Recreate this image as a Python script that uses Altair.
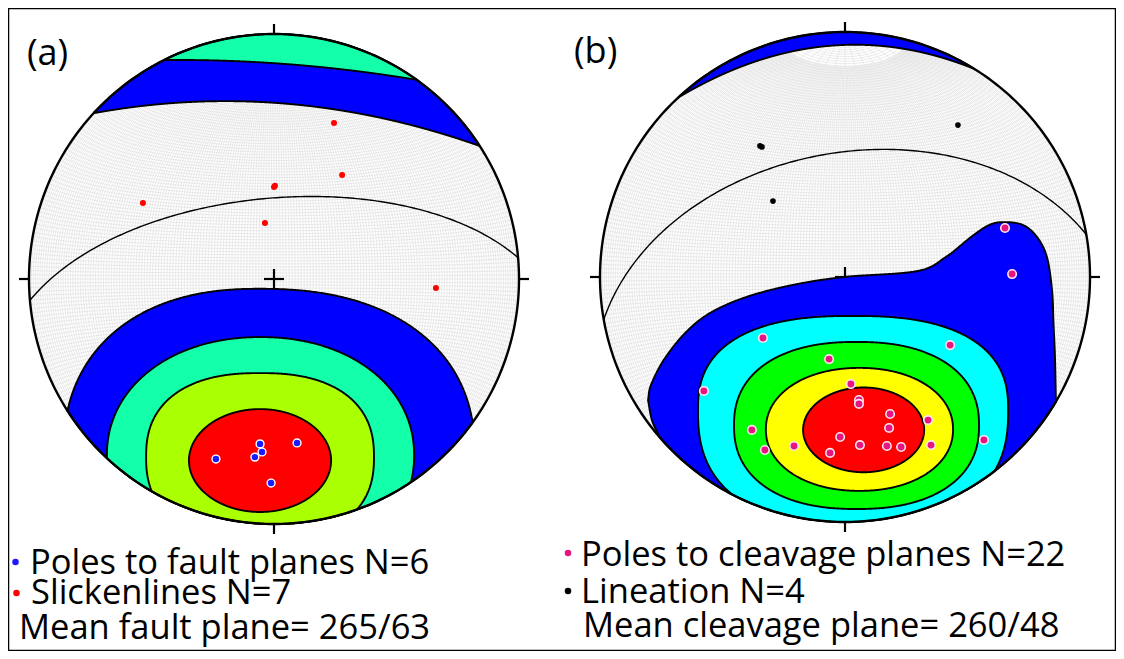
import numpy as np
import pandas as pd
import altair as alt

alt.data_transformers.disable_max_rows()

# =====================================================================
# DATA  (equal-area lower-hemisphere net coordinates:
#        u = east, v = north, primitive circle radius = 1)
# =====================================================================
# ---- panel (a)
fault_pole_u = [-0.237, -0.057, -0.049, -0.078, 0.094, -0.012]
fault_pole_v = [-0.735, -0.673, -0.706, -0.727, -0.669, -0.833]
slick_u = [0.245, 0.278, 0.000, -0.535, -0.037, 0.661, 0.004]
slick_v = [0.637, 0.424, 0.376, 0.310, 0.229, -0.037, 0.381]
mean_fault_plane = (265, 63)            # strike / dip (right-hand rule)

# ---- panel (b)
cleav_pole_u = [0.653, 0.682, -0.335, 0.429, -0.065, 0.024, 0.057, 0.057, 0.184, 0.180, 0.339,
                -0.020, 0.061, 0.171, 0.229, -0.061, -0.208, -0.327, 0.351, -0.576, -0.380, 0.567]
cleav_pole_v = [0.200, 0.012, -0.249, -0.278, -0.335, -0.437, -0.502, -0.518, -0.559, -0.616, -0.584,
                -0.653, -0.686, -0.690, -0.694, -0.718, -0.690, -0.706, -0.686, -0.465, -0.624, -0.665]
lin_u = [-0.339, -0.347, 0.461, -0.294]
lin_v = [0.531, 0.535, 0.620, 0.310]
mean_cleavage_plane = (260, 48)

# ---- density contour bands
# closed ovals: centre u, centre v, half-width left/right, half-height top/bottom, squareness
oval_level_a = ["c1", "c2", "c3", "c4"]
oval_shape_a = [(-0.060, -0.720, 0.800, 0.880, 0.680, 0.680, 2.3),
                (-0.055, -0.720, 0.627, 0.627, 0.483, 0.483, 2.1),
                (-0.057, -0.727, 0.465, 0.465, 0.343, 0.343, 2.4),
                (-0.057, -0.741, 0.290, 0.290, 0.210, 0.210, 2.0)]
oval_level_b = ["c2", "c3", "c4", "c5"]
oval_shape_b = [(0.033, -0.543, 0.633, 0.633, 0.384, 0.469, 2.5),
                (0.047, -0.606, 0.500, 0.500, 0.341, 0.341, 2.3),
                (0.059, -0.622, 0.382, 0.382, 0.251, 0.251, 2.1),
                (0.076, -0.624, 0.247, 0.247, 0.173, 0.173, 2.0)]
# caps wrapped to the opposite rim: apex u, apex v, curvature
cap_level_a = ["c1", "c2"]
cap_shape_a = [(-0.198, 0.726, 0.170), (-0.394, 0.894, 0.085)]
cap_level_b = ["c1"]
cap_shape_b = [(0.040, 0.948, 0.415)]
# lowest contour of panel (b): free outline (upper edge / lower edge)
lobe_top_u = [-0.804, -0.792, -0.740, -0.653, -0.551, -0.404, -0.216, -0.004, 0.294, 0.412,
              0.514, 0.588, 0.649, 0.727, 0.784, 0.824, 0.845, 0.851, 0.857, 0.861]
lobe_top_v = [-0.502, -0.441, -0.339, -0.229, -0.147, -0.082, -0.033, 0.000, 0.024, 0.082,
              0.163, 0.212, 0.224, 0.212, 0.163, 0.082, -0.053, -0.188, -0.327, -0.514]
lobe_bot_u = [-0.804, -0.788, -0.755, -0.700]
lobe_bot_v = [-0.502, -0.584, -0.660, -0.800]

level_colors = {"c1": "#0000fe", "c2a": "#14ffaa", "c3a": "#aaff00", "c4a": "#ff0000",
                "c2b": "#00ffff", "c3b": "#00ff00", "c4b": "#ffff00", "c5b": "#ff0000"}

legend_a = ["Poles to fault planes N=6", "Slickenlines N=7", "Mean fault plane= 265/63"]
legend_b = ["Poles to cleavage planes N=22", "Lineation N=4", "Mean cleavage plane= 260/48"]
panel_tags = ["(a)", "(b)"]

# =====================================================================
# LAYOUT
# =====================================================================
R = 245.0
CEN = {"a": (274.0, 279.0), "b": (845.0, 277.0)}
xs = alt.Scale(domain=[8, 1116], nice=False, zero=False)
ys = alt.Scale(domain=[8, 651], nice=False, zero=False, reverse=True)
FONT = "Open Sans"


def X(f):
    return alt.X(f, type="quantitative", scale=xs, axis=None)


def Y(f):
    return alt.Y(f, type="quantitative", scale=ys, axis=None)


def px(panel, u, v):
    cx, cy = CEN[panel]
    return cx + np.asarray(u, float) * R, cy - np.asarray(v, float) * R


def ea(e, n, d):
    s = np.sqrt(1.0 + np.clip(d, 0, None))
    return e / s, n / s


# ---------------- stereonet grid (Schmidt net, 1 degree) --------------
gu, gv, gg, gk = [], [], [], []
gid = 0
for dip in range(1, 180):
    step = np.arange(0, 181, 3) if dip % 10 == 0 else np.arange(15, 166, 3)
    t = np.radians(step)
    dd = np.radians(dip)
    u, v = ea(np.sin(t) * np.cos(dd), np.cos(t), np.sin(t) * np.sin(dd))
    gu += list(u); gv += list(v); gg += [gid] * len(t); gk += list(range(len(t)))
    gid += 1
for beta in range(1, 180):
    s = np.radians(np.arange(0, 181, 3))
    b = np.radians(beta)
    u, v = ea(np.sin(b) * np.cos(s), np.full_like(s, np.cos(b)), np.sin(b) * np.sin(s))
    gu += list(u); gv += list(v); gg += [gid] * len(s); gk += list(range(len(s)))
    gid += 1
net_df = pd.DataFrame({"u": np.round(gu, 4), "v": np.round(gv, 4), "g": gg, "k": gk})

ang = np.radians(np.arange(0, 361, 1))
circ_df = pd.DataFrame({"u": np.cos(ang), "v": np.sin(ang), "k": np.arange(len(ang))})


# ---------------- contour region geometry -----------------------------
def clip_to_disk(u, top, bot):
    c = np.sqrt(np.clip(1 - u * u, 0, None))
    top = np.minimum(top, c)
    bot = np.maximum(bot, -c)
    m = (top >= bot) & (np.abs(u) <= 1)
    idx = np.where(m)[0]
    lo, hi = max(idx[0] - 1, 0), min(idx[-1] + 1, len(u) - 1)
    sl = slice(lo, hi + 1)
    u, top, bot = u[sl], top[sl], bot[sl]
    bot = np.minimum(bot, top)
    return u, top, bot


def oval(cu, cv, rl, rr, rt, rb, p, n=500):
    th = np.linspace(np.pi, 0, n)
    c, s = np.cos(th), np.sin(th)
    sx = np.sign(c) * np.abs(c) ** (2 / p)
    f = np.abs(s) ** (2 / p)
    u = cu + np.where(sx < 0, sx * rl, sx * rr)
    return clip_to_disk(u, cv + rt * f, cv - rb * f)


def cap(u0, v0, k, n=2500):
    u = np.linspace(-1, 1, n)
    c = np.sqrt(np.clip(1 - u * u, 0, None))
    return clip_to_disk(u, c, v0 - k * (u - u0) ** 2)


def catmull(uu, vv, n=16):
    P = np.column_stack([uu, vv]).astype(float)
    P = np.vstack([2 * P[0] - P[1], P, 2 * P[-1] - P[-2]])
    out = []
    for i in range(1, len(P) - 2):
        p0, p1, p2, p3 = P[i - 1], P[i], P[i + 1], P[i + 2]
        for t in np.linspace(0, 1, n, endpoint=False):
            out.append(0.5 * (2 * p1 + (-p0 + p2) * t + (2 * p0 - 5 * p1 + 4 * p2 - p3) * t * t
                              + (-p0 + 3 * p1 - 3 * p2 + p3) * t ** 3))
    out.append(P[-2])
    return np.array(out)


def lobe():
    tc = catmull(lobe_top_u, lobe_top_v)
    bc = catmull(lobe_bot_u, lobe_bot_v)
    tu = np.maximum.accumulate(tc[:, 0])
    bu = np.concatenate([np.maximum.accumulate(bc[:, 0]), [-0.5, 0.95]])
    bv = np.concatenate([bc[:, 1], [-1.3, -1.3]])
    grid = np.unique(np.concatenate([tu, np.linspace(tu[0], tu[-1], 500)]))
    top = np.interp(grid, tu, tc[:, 1])
    bot = np.interp(grid, bu, bv)
    return clip_to_disk(grid, top, bot)


def region_df(panel, geom):
    u, top, bot = geom
    x, yt = px(panel, u, top)
    _, yb = px(panel, u, bot)
    return pd.DataFrame({"x": np.round(x, 2), "yt": np.round(yt, 2), "yb": np.round(yb, 2)})


def area_layer(df, color):
    return alt.Chart(df).mark_area(fill=color, stroke="black", strokeWidth=1.9,
                                   interpolate="linear", opacity=1).encode(
        x=X("x"), y=Y("yt"), y2=alt.Y2("yb"))


# =====================================================================
# LAYERS
# =====================================================================
layers = []

# grid
for p in ["a", "b"]:
    cx, cy = CEN[p]
    layers.append(
        alt.Chart(net_df).transform_calculate(px=f"{cx}+datum.u*{R}", py=f"{cy}-datum.v*{R}")
        .mark_line(stroke="#dedede", strokeWidth=0.6)
        .encode(x=X("px"), y=Y("py"), detail="g:N", order="k:Q"))

# ticks and centre cross
tk = []
for p in ["a", "b"]:
    cx, cy = CEN[p]
    tk += [(cx, cy - R - 10, cx, cy - R), (cx, cy + R, cx, cy + R + 10),
           (cx - R - 10, cy, cx - R, cy), (cx + R, cy, cx + R + 10, cy),
           (cx - 10, cy, cx + 10, cy), (cx, cy - 10, cx, cy + 10)]
tick_df = pd.DataFrame(tk, columns=["x", "y", "x2", "y2"])
layers.append(alt.Chart(tick_df).mark_rule(color="black", strokeWidth=2.2).encode(
    x=X("x"), y=Y("y"), x2="x2", y2="y2"))

# contour bands, panel (a)
layers.append(area_layer(region_df("a", oval(*oval_shape_a[0])), level_colors["c1"]))
for lev, shp in zip(cap_level_a, cap_shape_a):
    layers.append(area_layer(region_df("a", cap(*shp)),
                             level_colors[lev if lev == "c1" else lev + "a"]))
for lev, shp in zip(oval_level_a[1:], oval_shape_a[1:]):
    layers.append(area_layer(region_df("a", oval(*shp)), level_colors[lev + "a"]))

# contour bands, panel (b)
layers.append(area_layer(region_df("b", lobe()), level_colors["c1"]))
for lev, shp in zip(cap_level_b, cap_shape_b):
    layers.append(area_layer(region_df("b", cap(*shp)), level_colors[lev]))
for lev, shp in zip(oval_level_b, oval_shape_b):
    layers.append(area_layer(region_df("b", oval(*shp)), level_colors[lev + "b"]))


# mean planes (great circles)
def plane_df(panel, strike, dip):
    st = np.radians(strike); ddir = np.radians(strike + 90); dp = np.radians(dip)
    sv = np.array([np.sin(st), np.cos(st), 0.0])
    dv = np.array([np.sin(ddir) * np.cos(dp), np.cos(ddir) * np.cos(dp), np.sin(dp)])
    t = np.linspace(0, np.pi, 181)
    P = np.outer(np.cos(t), sv) + np.outer(np.sin(t), dv)
    u, v = ea(P[:, 0], P[:, 1], P[:, 2])
    x, y = px(panel, u, v)
    return pd.DataFrame({"x": x, "y": y, "k": np.arange(len(t))})


for p, pl in [("a", mean_fault_plane), ("b", mean_cleavage_plane)]:
    layers.append(alt.Chart(plane_df(p, *pl)).mark_line(color="black", strokeWidth=1.4).encode(
        x=X("x"), y=Y("y"), order="k:Q"))

# primitive circles
for p in ["a", "b"]:
    cx, cy = CEN[p]
    layers.append(
        alt.Chart(circ_df).transform_calculate(px=f"{cx}+datum.u*{R}", py=f"{cy}-datum.v*{R}")
        .mark_line(color="black", strokeWidth=2.4).encode(x=X("px"), y=Y("py"), order="k:Q"))


# data points
def pts_df(panel, u, v):
    x, y = px(panel, u, v)
    return pd.DataFrame({"x": x, "y": y})


layers.append(alt.Chart(pts_df("a", slick_u, slick_v)).mark_circle(
    color="#ff0000", size=36, opacity=1).encode(x=X("x"), y=Y("y")))
layers.append(alt.Chart(pts_df("a", fault_pole_u, fault_pole_v)).mark_circle(
    color="#1a1aff", size=62, opacity=1, stroke="white", strokeWidth=1.4).encode(x=X("x"), y=Y("y")))
layers.append(alt.Chart(pts_df("b", lin_u, lin_v)).mark_circle(
    color="#000000", size=32, opacity=1).encode(x=X("x"), y=Y("y")))
layers.append(alt.Chart(pts_df("b", cleav_pole_u, cleav_pole_v)).mark_circle(
    color="#e6157f", size=72, opacity=1, stroke="#ffe6f2", strokeWidth=1.6).encode(x=X("x"), y=Y("y")))

# legend bullets
bul = pd.DataFrame({"x": [15.5, 16.5, 568, 568], "y": [562, 593, 553, 591],
                    "c": ["#1a1aff", "#ff0000", "#e6157f", "#000000"]})
layers.append(alt.Chart(bul).mark_circle(size=42, opacity=1).encode(
    x=X("x"), y=Y("y"), color=alt.Color("c:N", scale=None)))

# legend texts
txt = pd.DataFrame({"x": [30, 31, 19, 581, 581, 583],
                    "y": [574, 604, 639, 566, 603, 637],
                    "t": legend_a + legend_b})
layers.append(alt.Chart(txt).mark_text(align="left", baseline="alphabetic", font=FONT,
                                       fontSize=34.5, color="black").encode(
    x=X("x"), y=Y("y"), text="t:N"))
tags = pd.DataFrame({"x": [27, 574], "y": [65, 63], "t": panel_tags})
layers.append(alt.Chart(tags).mark_text(align="left", baseline="alphabetic", font=FONT,
                                        fontSize=36, color="black").encode(
    x=X("x"), y=Y("y"), text="t:N"))

chart = alt.layer(*layers).properties(
    width=1108, height=643, padding=0,
    autosize=alt.AutoSizeParams(type="fit", contains="padding"),
    background="white",
).configure_view(stroke="black", strokeWidth=2.5)

chart.save("out.html", embed_options={"renderer": "svg", "actions": False})
